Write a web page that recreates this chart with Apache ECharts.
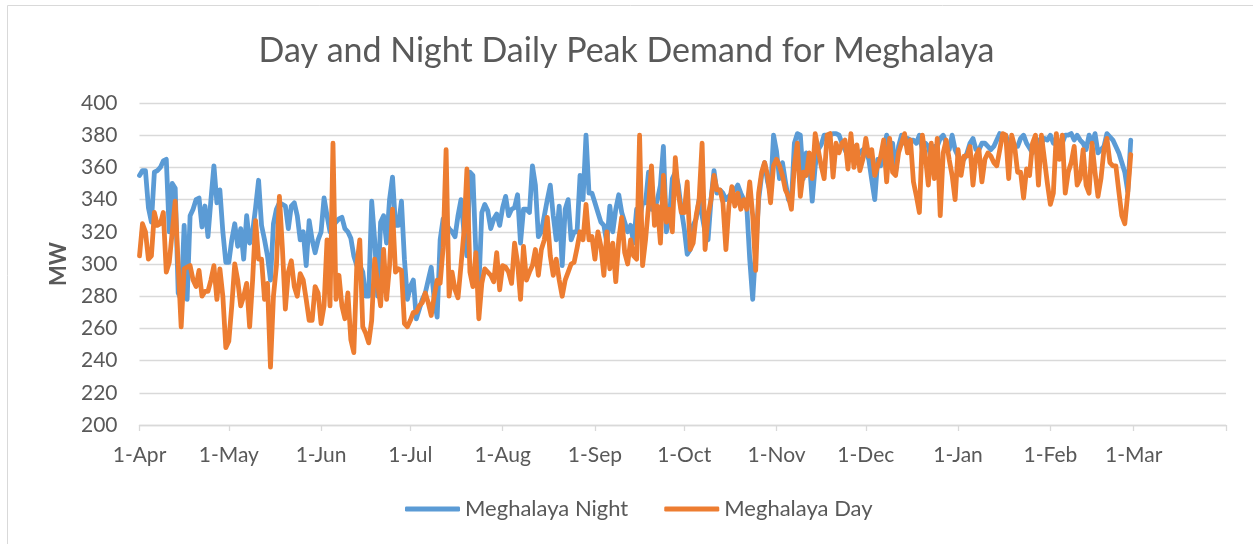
<!DOCTYPE html>
<html>
<head>
<meta charset="utf-8">
<title>Day and Night Daily Peak Demand for Meghalaya</title>
<script src="https://cdn.jsdelivr.net/npm/echarts@6/dist/echarts.min.js"></script>
<style>
  html, body { margin: 0; padding: 0; background: #fff; }
  #chart { width: 1253px; height: 544px; }
</style>
</head>
<body>
<div id="chart"></div>
<script>
// daily peak demand (MW), one row per month, starting 1-Apr
const night = [
  355, 358, 358, 335, 326, 357, 358, 360, 364, 365, 320, 350, 347, 282, 278, 324, 278, 330, 334, 340, 341, 323, 336, 317, 340, 361, 338, 346, 320, 301,
  301, 315, 325, 311, 322, 303, 330, 313, 320, 335, 352, 324, 315, 305, 290, 325, 334, 338, 337, 336, 322, 336, 338, 330, 315, 320, 299, 327, 315, 307, 315,
  320, 341, 330, 320, 324, 326, 328, 329, 322, 320, 316, 305, 299, 299, 295, 280, 280, 339, 315, 280, 326, 330, 313, 340, 354, 324, 324, 339, 303, 278,
  286, 290, 266, 272, 278, 282, 290, 298, 278, 267, 315, 328, 325, 322, 320, 317, 330, 340, 320, 305, 357, 355, 307, 286, 332, 337, 333, 322, 328, 331, 324,
  335, 342, 330, 334, 335, 343, 313, 334, 334, 332, 361, 349, 317, 320, 330, 340, 349, 330, 315, 336, 299, 334, 340, 315, 320, 320, 355, 340, 380, 344, 344,
  338, 332, 326, 324, 313, 336, 320, 334, 343, 332, 326, 320, 324, 313, 334, 328, 338, 338, 357, 334, 334, 340, 349, 373, 320, 328, 353, 357, 349, 334,
  322, 306, 309, 324, 328, 340, 330, 320, 315, 340, 358, 344, 346, 344, 340, 342, 344, 346, 349, 344, 340, 336, 303, 278, 309, 340, 355, 363, 351, 344, 380,
  370, 353, 363, 351, 340, 338, 375, 381, 380, 353, 369, 365, 339, 361, 371, 374, 380, 380, 380, 381, 381, 380, 375, 371, 367, 371, 373, 367, 369, 371,
  369, 365, 352, 340, 365, 361, 369, 380, 373, 375, 357, 373, 380, 375, 378, 377, 377, 375, 380, 371, 375, 373, 365, 373, 373, 378, 380, 375, 371, 380, 371,
  367, 365, 365, 369, 375, 378, 371, 371, 375, 375, 373, 371, 373, 377, 381, 380, 380, 375, 371, 373, 373, 378, 380, 375, 372, 369, 373, 377, 375, 378, 377,
  380, 375, 375, 373, 375, 380, 380, 381, 377, 380, 377, 375, 371, 380, 375, 381, 369, 371, 373, 381, 379, 377, 373, 369, 363, 357, 345, 377
]

const day = [
  305, 325, 320, 303, 305, 332, 324, 325, 332, 295, 301, 320, 339, 299, 261, 297, 298, 299, 290, 286, 296, 280, 283, 283, 290, 299, 278, 297, 280, 248,
  252, 274, 300, 290, 274, 280, 288, 261, 290, 327, 303, 303, 278, 288, 236, 280, 299, 342, 310, 272, 295, 302, 286, 280, 294, 290, 278, 265, 265, 286, 282,
  263, 274, 315, 274, 375, 278, 293, 274, 266, 282, 253, 245, 299, 315, 261, 257, 251, 265, 303, 288, 274, 309, 278, 299, 334, 295, 297, 296, 263, 261,
  265, 270, 270, 274, 276, 282, 276, 268, 280, 290, 288, 310, 371, 280, 295, 284, 279, 299, 320, 359, 295, 286, 307, 266, 288, 297, 295, 293, 289, 307, 284,
  299, 298, 295, 288, 313, 301, 278, 311, 290, 295, 299, 309, 293, 309, 315, 329, 305, 293, 303, 290, 280, 290, 295, 300, 301, 310, 320, 315, 337, 315, 317,
  303, 320, 311, 293, 320, 297, 313, 289, 315, 329, 307, 300, 315, 305, 303, 380, 299, 315, 336, 361, 324, 336, 313, 355, 326, 334, 320, 366, 344, 332,
  332, 351, 309, 313, 330, 340, 375, 309, 330, 340, 355, 346, 346, 338, 309, 336, 348, 336, 344, 334, 340, 334, 351, 330, 296, 344, 357, 363, 355, 338, 361,
  365, 361, 355, 346, 342, 334, 361, 375, 342, 357, 355, 369, 353, 381, 371, 361, 353, 380, 381, 354, 375, 369, 375, 377, 359, 381, 360, 374, 358, 365,
  378, 367, 371, 355, 361, 367, 377, 351, 378, 357, 355, 369, 375, 381, 369, 377, 351, 342, 332, 380, 367, 349, 375, 353, 378, 330, 369, 377, 365, 355, 340,
  371, 355, 367, 367, 373, 349, 367, 371, 351, 365, 369, 367, 363, 361, 371, 381, 380, 353, 380, 373, 357, 357, 341, 359, 355, 375, 380, 349, 380, 365, 350,
  337, 344, 381, 365, 380, 344, 357, 363, 373, 349, 353, 371, 349, 344, 375, 357, 342, 353, 371, 378, 363, 361, 361, 345, 330, 325, 344, 368
]

const monthNames = ['Jan', 'Feb', 'Mar', 'Apr', 'May', 'Jun', 'Jul', 'Aug', 'Sep', 'Oct', 'Nov', 'Dec']
const seriesNames = ['Meghalaya Night', 'Meghalaya Day']
const colors = ['#5B9BD5', '#ED7D31']

// date axis runs 1-Apr .. 1-Apr of the next year
const startDate = Date.UTC(2017, 3, 1)
const categories = []
for (let i = 0; i <= 365; i++) {
  const d = new Date(startDate + i * 86400000)
  categories.push(d.getUTCDate() + '-' + monthNames[d.getUTCMonth()])
}

const isMonthStart = (idx, val) => val.indexOf('1-') === 0
const font = 'Lato, "Open Sans", sans-serif'
const grey = '#595959'
const gridColor = '#d9d9d9'

const chart = echarts.init(document.getElementById('chart'))
chart.setOption({
  animation: false,
  color: colors,
  title: {
    text: 'Day and Night Daily Peak Demand for Meghalaya',
    left: 'center',
    top: 29,
    textStyle: { fontFamily: font, fontSize: 34, fontWeight: 'normal', color: grey }
  },
  graphic: [{
    type: 'rect',
    shape: { x: 7.5, y: 5.5, width: 1400, height: 700 },
    style: { fill: 'none', stroke: gridColor, lineWidth: 1 },
    silent: true
  }],
  legend: {
    data: seriesNames,
    left: 400,
    top: 493,
    icon: 'roundRect',
    itemWidth: 55,
    itemHeight: 5,
    itemGap: 36,
    textStyle: { fontFamily: font, fontSize: 22, color: grey }
  },
  grid: { left: 139.5, right: 27, top: 103, bottom: 119 },
  xAxis: {
    type: 'category',
    data: categories,
    boundaryGap: false,
    axisLine: { lineStyle: { color: gridColor, width: 1.3 } },
    axisTick: { show: true, length: 6, interval: isMonthStart, lineStyle: { color: gridColor, width: 1.3 } },
    axisLabel: {
      interval: (idx, val) => isMonthStart(idx, val) && idx < 365,
      color: grey,
      fontFamily: font,
      fontSize: 21,
      margin: 20
    },
    splitLine: { show: false }
  },
  yAxis: {
    type: 'value',
    min: 200,
    max: 400,
    interval: 20,
    name: 'MW',
    nameLocation: 'middle',
    nameGap: 70,
    nameTextStyle: { fontFamily: font, fontSize: 22, fontWeight: 'bold', color: grey },
    axisLine: { show: false },
    axisTick: { show: false },
    axisLabel: { color: grey, fontFamily: font, fontSize: 21, margin: 22 },
    splitLine: { lineStyle: { color: gridColor, width: 1.3 } }
  },
  series: [
    {
      name: seriesNames[0],
      type: 'line',
      data: night,
      showSymbol: false,
      symbol: 'none',
      lineStyle: { width: 4.8, join: 'round', cap: 'round' }
    },
    {
      name: seriesNames[1],
      type: 'line',
      data: day,
      showSymbol: false,
      symbol: 'none',
      lineStyle: { width: 4.8, join: 'round', cap: 'round' }
    }
  ]
})
</script>
</body>
</html>
